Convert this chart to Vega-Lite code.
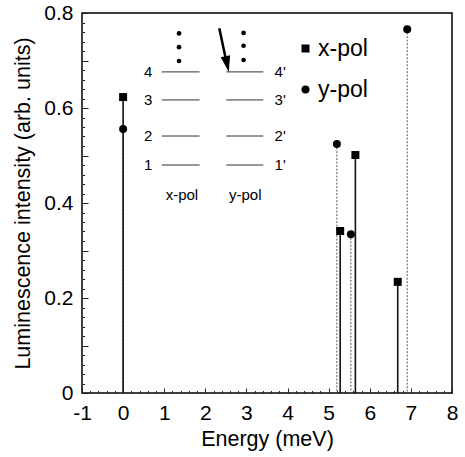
{
  "$schema": "https://vega.github.io/schema/vega-lite/v6.json",
  "width": 370,
  "height": 380,
  "autosize": {"type": "none"},
  "padding": {"left": 82, "top": 13, "right": 13, "bottom": 64},
  "background": "white",
  "config": {"style": {"cell": {"stroke": "#000000", "strokeWidth": 1.5}}, "font": "Liberation Sans"},
  "datasets": {
    "stems": [
      {"pol": "x-pol", "x": 0, "y": 0.623},
      {"pol": "y-pol", "x": 0, "y": 0.556},
      {"pol": "y-pol", "x": 5.2, "y": 0.524},
      {"pol": "x-pol", "x": 5.28, "y": 0.341},
      {"pol": "y-pol", "x": 5.54, "y": 0.334},
      {"pol": "x-pol", "x": 5.65, "y": 0.501},
      {"pol": "x-pol", "x": 6.68, "y": 0.234},
      {"pol": "y-pol", "x": 6.91, "y": 0.766}
    ],
    "levels": [
      {"x": 0.94, "x2": 1.86, "y": 0.676},
      {"x": 0.94, "x2": 1.86, "y": 0.617},
      {"x": 0.94, "x2": 1.86, "y": 0.541},
      {"x": 0.94, "x2": 1.86, "y": 0.48},
      {"x": 2.51, "x2": 3.41, "y": 0.676},
      {"x": 2.51, "x2": 3.41, "y": 0.617},
      {"x": 2.51, "x2": 3.41, "y": 0.541},
      {"x": 2.51, "x2": 3.41, "y": 0.48}
    ],
    "labels": [
      {"x": 0.61, "y": 0.676, "t": "4"},
      {"x": 0.61, "y": 0.617, "t": "3"},
      {"x": 0.61, "y": 0.541, "t": "2"},
      {"x": 0.61, "y": 0.48, "t": "1"},
      {"x": 3.82, "y": 0.676, "t": "4'"},
      {"x": 3.82, "y": 0.617, "t": "3'"},
      {"x": 3.82, "y": 0.541, "t": "2'"},
      {"x": 3.82, "y": 0.48, "t": "1'"},
      {"x": 1.43, "y": 0.417, "t": "x-pol"},
      {"x": 2.97, "y": 0.417, "t": "y-pol"}
    ],
    "dots": [
      {"x": 1.36, "y": 0.757},
      {"x": 1.36, "y": 0.728},
      {"x": 1.36, "y": 0.699},
      {"x": 2.93, "y": 0.758},
      {"x": 2.93, "y": 0.731},
      {"x": 2.93, "y": 0.701}
    ],
    "arrow": [{"x": 2.34, "y": 0.768, "x2": 2.53, "y2": 0.69}],
    "tip": [{"x": 2.57, "y": 0.676}]
  },
  "encoding": {
    "x": {
      "field": "x",
      "type": "quantitative",
      "title": "Energy (meV)",
      "scale": {"domain": [-1, 8], "nice": false, "zero": false},
      "axis": {
        "values": [-1, -0.8, -0.6, -0.4, -0.2, 0, 0.2, 0.4, 0.6, 0.8, 1, 1.2, 1.4, 1.6, 1.8, 2, 2.2, 2.4, 2.6, 2.8, 3, 3.2, 3.4, 3.6, 3.8, 4, 4.2, 4.4, 4.6, 4.8, 5, 5.2, 5.4, 5.6, 5.8, 6, 6.2, 6.4, 6.6, 6.8, 7, 7.2, 7.4, 7.6, 7.8, 8],
        "labelExpr": "abs(datum.value-round(datum.value))<0.001 ? '' + round(datum.value) : ''",
        "tickSize": {"condition": {"test": "abs(datum.value-round(datum.value))<0.001", "value": -5}, "value": -2.5},
        "tickColor": "#222222",
        "tickWidth": 1,
        "zindex": 1,
        "domain": false,
        "grid": false,
        "labelFont": "Liberation Sans",
        "labelFontSize": 21,
        "labelColor": "black",
        "labelPadding": 14,
        "labelOverlap": false,
        "labelFlush": false,
        "labelBound": false,
        "titleFont": "Liberation Sans",
        "titleFontSize": 21.5,
        "titleFontWeight": "normal",
        "titleColor": "black",
        "titlePadding": 3
      }
    },
    "y": {
      "field": "y",
      "type": "quantitative",
      "title": "Luminescence intensity (arb. units)",
      "scale": {"domain": [0, 0.8], "nice": false, "zero": false},
      "axis": {
        "values": [0, 0.02, 0.04, 0.06, 0.08, 0.1, 0.12, 0.14, 0.16, 0.18, 0.2, 0.22, 0.24, 0.26, 0.28, 0.3, 0.32, 0.34, 0.36, 0.38, 0.4, 0.42, 0.44, 0.46, 0.48, 0.5, 0.52, 0.54, 0.56, 0.58, 0.6, 0.62, 0.64, 0.66, 0.68, 0.7, 0.72, 0.74, 0.76, 0.78, 0.8],
        "format": "~g",
        "labelExpr": "abs(datum.value*5-round(datum.value*5))<0.001 ? datum.label : ''",
        "tickSize": {"condition": {"test": "abs(datum.value*10-round(datum.value*10))<0.001", "value": -6}, "value": -2.5},
        "tickColor": "#222222",
        "tickWidth": 1,
        "zindex": 1,
        "domain": false,
        "grid": false,
        "labelFont": "Liberation Sans",
        "labelFontSize": 21,
        "labelColor": "black",
        "labelPadding": 15,
        "labelOverlap": false,
        "labelFlush": false,
        "labelBound": false,
        "titleFont": "Liberation Sans",
        "titleFontSize": 21.5,
        "titleFontWeight": "normal",
        "titleColor": "black",
        "titlePadding": 9
      }
    }
  },
  "layer": [
    {
      "data": {"name": "stems"},
      "transform": [{"filter": "datum.pol == 'y-pol'"}],
      "mark": {"type": "rule", "color": "#555555", "strokeWidth": 1, "strokeDash": [2, 1.5]},
      "encoding": {"y2": {"datum": 0}}
    },
    {
      "data": {"name": "stems"},
      "transform": [{"filter": "datum.pol == 'x-pol'"}],
      "mark": {"type": "rule", "color": "#111111", "strokeWidth": 1.6},
      "encoding": {"y2": {"datum": 0}}
    },
    {
      "data": {"name": "stems"},
      "mark": {"type": "point", "filled": true, "color": "black", "opacity": 1, "size": 64},
      "encoding": {
        "shape": {
          "field": "pol",
          "type": "nominal",
          "scale": {"domain": ["x-pol", "y-pol"], "range": ["square", "circle"]},
          "legend": {
            "orient": "none",
            "legendX": 212,
            "legendY": 24,
            "title": null,
            "padding": 0,
            "labelFont": "Liberation Sans",
            "labelFontSize": 23,
            "labelColor": "black",
            "labelOffset": 1,
            "rowPadding": 17,
            "symbolSize": 64,
            "symbolFillColor": "black",
            "symbolStrokeColor": "black"
          }
        }
      }
    },
    {
      "data": {"name": "levels"},
      "mark": {"type": "rule", "color": "#333333", "strokeWidth": 1},
      "encoding": {"x2": {"field": "x2"}}
    },
    {
      "data": {"name": "labels"},
      "mark": {"type": "text", "font": "Liberation Sans", "fontSize": 15, "align": "center", "baseline": "middle", "color": "black"},
      "encoding": {"text": {"field": "t", "type": "nominal"}}
    },
    {
      "data": {"name": "dots"},
      "mark": {"type": "point", "shape": "circle", "filled": true, "color": "black", "opacity": 1, "size": 22}
    },
    {
      "data": {"name": "arrow"},
      "mark": {"type": "rule", "color": "black", "strokeWidth": 2.5},
      "encoding": {"x2": {"field": "x2"}, "y2": {"field": "y2"}}
    },
    {
      "data": {"name": "tip"},
      "mark": {"type": "point", "shape": "M-0.6,-2L0.6,-2L0,0Z", "angle": -12, "filled": true, "color": "black", "opacity": 1, "size": 256}
    }
  ]
}
